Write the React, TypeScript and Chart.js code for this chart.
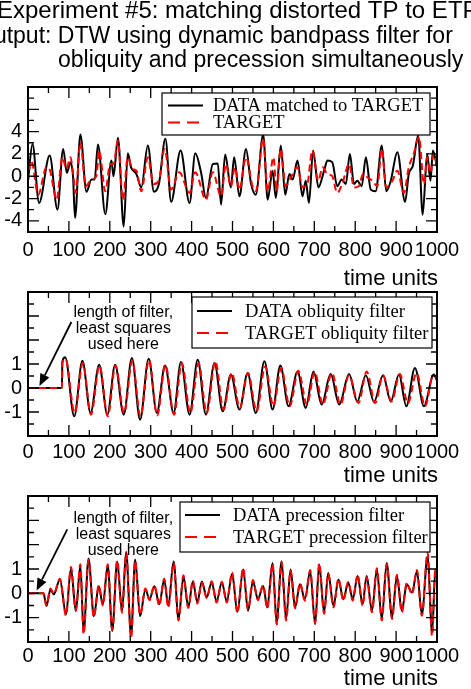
import { useEffect, useRef } from "react";
import { Chart, registerables } from "chart.js";

Chart.register(...registerables);

const SANS = "'Liberation Sans', Arial, Helvetica, sans-serif";
const SERIF = "'Liberation Serif', 'Times New Roman', Times, serif";

// ---------- Panel 1: DATA matched to TARGET ----------
const p1DataTime = [
  0, 11, 27, 53, 72, 86, 95, 104, 110, 115,
  128, 143, 155, 163, 171, 189, 204, 209, 220, 234,
  244, 252, 265, 277, 293, 308, 320, 336, 350, 373,
  395, 409, 423, 435, 452, 464, 472, 482, 496, 504,
  517, 533, 545, 557, 575, 586, 598, 606, 618, 629,
  639, 647, 659, 671, 679, 687, 697, 710, 724, 732,
  744, 756, 767, 777, 787, 797, 805, 816, 826, 838,
  850, 865, 876, 887, 903, 922, 931, 941, 954, 965,
  976, 984, 990, 1000,
];
const p1DataValue = [
  -0.4, 2.9, -2.4, 1.85, -3.0, 2.45, 0.3, 1.25, 0.0, -3.75,
  3.75, -1.4, -0.3, -0.3, 2.85, -3.4, 1.4, 0.0, 3.45, -4.5,
  2.05, 0.8, 0.2, -1.0, 2.75, -1.4, -0.7, 3.35, -2.3, 2.3,
  -2.4, 2.05, 0.35, -1.95, 1.1, 1.15, -2.55, 1.95, -1.0, 1.7,
  -1.8, 2.45, -0.6, -1.65, 3.75, -2.1, 0.5, -1.95, 2.75, -1.65,
  0.2, -0.3, 1.4, -1.8, -0.4, -2.4, 2.3, -1.0, 0.5, 1.4,
  1.25, -0.9, -0.3, -0.7, 2.0, -0.7, -0.4, -0.9, 1.7, -1.2,
  -1.35, 2.75, -1.35, -0.4, 2.15, -2.3, 0.2, 0.95, 3.65, -3.45,
  2.0, -0.4, 2.3, 0.8,
];
const p1TargetTime = [
  0, 8, 25, 45, 53, 70, 84, 94, 104, 110,
  117, 128, 141, 155, 167, 174, 189, 201, 209, 220,
  232, 244, 255, 265, 277, 293, 307, 320, 334, 350,
  370, 395, 409, 435, 452, 472, 484, 496, 506, 517,
  533, 549, 557, 575, 586, 600, 608, 618, 630, 643,
  659, 671, 683, 695, 710, 720, 732, 744, 756, 769,
  785, 797, 809, 819, 830, 842, 854, 865, 876, 891,
  903, 919, 931, 943, 956, 968, 976, 984, 992, 1000,
];
const p1TargetValue = [
  -0.4, 1.4, -1.65, 0.8, 0.6, -2.1, 1.7, 0.65, 1.7, 0.3,
  -1.5, 3.05, -0.9, -0.3, 0.0, 2.3, -1.35, 1.1, 1.1, 3.2,
  -2.1, 1.7, 0.65, 0.5, -1.35, 1.7, -0.7, -0.4, 2.45, -1.2,
  0.35, -1.5, 0.35, -2.1, 0.35, -1.8, 1.1, -0.9, 0.8, -1.2,
  1.7, -0.9, -1.35, 3.35, -1.35, 1.7, -1.35, 2.45, -0.9, -0.1,
  0.8, -1.0, -0.7, 2.3, -0.4, 0.8, 0.2, 0.0, -1.5, -0.6,
  1.1, -1.0, -0.9, 0.2, -0.1, -0.4, -0.9, 2.45, -1.0, -0.4,
  0.5, -1.5, 0.8, 2.0, 3.5, -0.7, 1.7, 0.3, 2.0, 1.0,
];

// ---------- Panel 2: obliquity filter ----------
const p2DataTime = [
  0, 83, 84, 91, 113, 133, 153, 174, 194, 213,
  234, 254, 274, 295, 315, 335, 356, 374, 395, 415,
  435, 456, 476, 496, 517, 537, 557, 578, 598, 617,
  637, 659, 679, 698, 718, 740, 761, 785, 805, 826,
  846, 868, 887, 907, 925, 946, 968, 992, 1000,
];
const p2DataValue = [
  0, 0, 1.1, 1.28, -1.18, 1.14, -1.04, 0.97, -1.11, 0.97,
  -1.11, 1.25, -1.32, 1.22, -1.04, 0.94, -1.04, 1.08, -1.11, 1.18,
  -1.11, 1.04, -0.97, 0.56, -0.9, 0.63, -1.04, 1.11, -0.9, 0.94,
  -0.76, 0.69, -0.83, 0.69, -0.69, 0.58, -0.69, 0.58, -0.56, 0.53,
  -0.58, 0.53, -0.56, 0.56, -0.76, 0.83, -0.76, 0.56, 0.3,
];
const p2TargetTime = [
  0, 83, 84, 92, 114, 134, 154, 175, 195, 214,
  235, 255, 275, 296, 316, 336, 357, 376, 397, 417,
  437, 458, 478, 498, 518, 538, 559, 580, 600, 619,
  640, 661, 682, 701, 721, 743, 764, 785, 808, 828,
  849, 868, 889, 909, 929, 950, 971, 990, 1000,
];
const p2TargetValue = [
  0, 0, 1.05, 1.2, -1.04, 1.04, -1.11, 0.94, -1.18, 0.94,
  -1.04, 1.14, -1.18, 1.18, -1.14, 0.97, -1.11, 1.04, -1.04, 1.04,
  -1.04, 1.11, -0.9, 0.63, -0.83, 0.63, -0.97, 0.9, -0.76, 0.83,
  -0.76, 0.72, -0.69, 0.67, -0.69, 0.63, -0.69, 0.53, -0.63, 0.69,
  -0.63, 0.53, -0.56, 0.58, -0.63, 0.63, -0.76, 0.49, 0.45,
];

// ---------- Panel 3: precession filter ----------
const p3Time = [
  0, 38, 45, 55, 63, 78, 93, 105, 117, 128,
  136, 148, 161, 173, 183, 195, 206, 218, 230, 240,
  252, 262, 274, 287, 297, 309, 321, 333, 343, 356,
  368, 380, 392, 403, 414, 425, 437, 449, 461, 474,
  486, 499, 512, 526, 538, 550, 562, 575, 585, 598,
  608, 620, 631, 642, 653, 665, 677, 690, 702, 712,
  724, 734, 747, 759, 771, 783, 794, 806, 818, 828,
  841, 853, 865, 877, 890, 902, 914, 926, 939, 951,
  963, 977, 988, 996, 1000,
];
const p3DataValue = [
  0, 0, -0.52, 0.16, -0.04, 0.57, -0.86, 1.02, -0.73, 1.14,
  -1.6, 1.43, -0.94, 0.29, -0.45, 1.14, -1.55, 1.31, -0.73, 1.71,
  -1.75, 1.39, -0.94, 0.16, -0.24, 0.29, -0.45, 0.57, -0.52, 1.31,
  -1.06, 0.69, -0.57, 0.49, -0.37, 0.49, -0.16, 0.45, -0.33, 0.45,
  -0.33, 0.8, -0.76, 0.98, -0.72, 0.5, -0.24, 0.3, -0.58, 1.25,
  -1.2, 1.32, -1.06, 0.98, -0.58, 0.37, -0.24, 0.91, -1.27, 1.18,
  -0.79, 0.84, -0.52, 0.57, -0.24, 0.44, -0.24, 0.71, -0.45, 0.71,
  -0.72, 0.98, -1.06, 1.25, -0.99, 0.71, -0.72, 0.37, 0.03, 0.91,
  -0.86, 1.52, -1.6, 0.98, 0.6,
];
const p3TargetValue = [
  0, 0, -0.5, 0.2, -0.02, 0.6, -0.92, 1.08, -0.7, 1.2,
  -1.68, 1.38, -0.98, 0.33, -0.5, 1.2, -1.5, 1.36, -0.8, 1.66,
  -1.85, 1.34, -0.88, 0.2, -0.28, 0.33, -0.5, 0.6, -0.58, 1.26,
  -1.12, 0.74, -0.6, 0.52, -0.42, 0.45, -0.2, 0.5, -0.38, 0.48,
  -0.38, 0.86, -0.8, 1.03, -0.66, 0.55, -0.28, 0.34, -0.62, 1.2,
  -1.28, 1.28, -1.12, 0.93, -0.62, 0.42, -0.3, 0.96, -1.22, 1.24,
  -0.84, 0.8, -0.58, 0.6, -0.3, 0.48, -0.3, 0.76, -0.5, 0.66,
  -0.78, 1.03, -1.12, 1.2, -1.05, 0.76, -0.78, 0.42, -0.04, 0.96,
  -0.92, 1.68, -1.75, 1.05, 0.55,
];

// ---------- Axis ticks and text ----------
const timeTicks = [0, 100, 200, 300, 400, 500, 600, 700, 800, 900, 1000];
const matchYTicks = [-4, -2, 0, 2, 4];
const filterYTicks = [-1, 0, 1];
const xAxisLabel = "time units";
const titleLines = [
  "Experiment #5: matching distorted TP to ETP",
  "Output: DTW using dynamic bandpass filter for",
  "obliquity and precession simultaneously",
];
const noteLines = ["length of filter,", "least squares", "used here"];

const points = (t: number[], v: number[]) => t.map((x, i) => ({ x, y: v[i] }));

// Box around the plot with inward major/minor ticks on all four sides,
// plus the axis label under the tick numbers.
const framePlugin = {
  id: "frame",
  afterDatasetsDraw(chart: any, _args: any, o: any) {
    const { ctx, chartArea: a, scales } = chart;
    const xs = scales.x;
    const ys = scales.y;
    ctx.save();
    ctx.strokeStyle = "#000";
    ctx.lineWidth = 1.3;
    ctx.beginPath();
    const nx = Math.round((xs.max - xs.min) / o.xMinor);
    for (let i = 0; i <= nx; i++) {
      const v = xs.min + i * o.xMinor;
      const r = v / o.xMajor;
      const len = Math.abs(r - Math.round(r)) < 1e-6 ? o.major : o.minor;
      const p = xs.getPixelForValue(v);
      ctx.moveTo(p, a.bottom);
      ctx.lineTo(p, a.bottom - len);
      ctx.moveTo(p, a.top);
      ctx.lineTo(p, a.top + len);
    }
    const ny = Math.round((ys.max - ys.min) / o.yMinor);
    for (let i = 0; i <= ny; i++) {
      const v = ys.min + i * o.yMinor;
      const r = v / o.yMajor;
      const len = Math.abs(r - Math.round(r)) < 1e-6 ? o.major : o.minor;
      const p = ys.getPixelForValue(v);
      ctx.moveTo(a.left, p);
      ctx.lineTo(a.left + len, p);
      ctx.moveTo(a.right, p);
      ctx.lineTo(a.right - len, p);
    }
    ctx.stroke();
    ctx.lineWidth = 2;
    ctx.strokeRect(a.left, a.top, a.right - a.left, a.bottom - a.top);
    ctx.fillStyle = "#000";
    ctx.font = `22px ${SANS}`;
    ctx.textAlign = "right";
    ctx.textBaseline = "alphabetic";
    ctx.fillText(xAxisLabel, a.right + 1, o.labelBaseline);
    ctx.restore();
  },
};

// Boxed key in the upper right of the plot, built from the datasets.
const keyPlugin = {
  id: "keyBox",
  afterDraw(chart: any, _args: any, o: any) {
    if (!o || !o.box) return;
    const { ctx, chartArea: a } = chart;
    const L = a.left;
    const T = a.top;
    ctx.save();
    ctx.fillStyle = "#fff";
    ctx.fillRect(L + o.box[0], T + o.box[1], o.box[2], o.box[3]);
    ctx.strokeStyle = "#000";
    ctx.lineWidth = 1.2;
    ctx.strokeRect(L + o.box[0], T + o.box[1], o.box[2], o.box[3]);
    chart.data.datasets.forEach((ds: any, i: number) => {
      const y = T + o.rows[i];
      ctx.beginPath();
      ctx.strokeStyle = ds.borderColor;
      ctx.lineWidth = ds.borderWidth;
      ctx.setLineDash(ds.borderDash ? o.dash : []);
      ctx.moveTo(L + o.sample[0], y);
      ctx.lineTo(L + o.sample[1], y);
      ctx.stroke();
      ctx.setLineDash([]);
      ctx.fillStyle = "#000";
      ctx.font = `18.5px ${SERIF}`;
      ctx.textAlign = "left";
      ctx.textBaseline = "middle";
      ctx.fillText(ds.label, L + o.textX, y + 1);
    });
    ctx.restore();
  },
};

// Note with an arrow pointing at the start of the filtered record.
const notePlugin = {
  id: "note",
  afterDraw(chart: any, _args: any, o: any) {
    if (!o || !o.at) return;
    const { ctx, scales } = chart;
    const xs = scales.x;
    const ys = scales.y;
    ctx.save();
    ctx.fillStyle = "#000";
    ctx.font = `16px ${SANS}`;
    ctx.textAlign = "center";
    ctx.textBaseline = "middle";
    const cx = xs.getPixelForValue(o.at);
    noteLines.forEach((line, i) => ctx.fillText(line, cx, ys.getPixelForValue(o.rows[i])));
    const x1 = xs.getPixelForValue(o.from[0]);
    const y1 = ys.getPixelForValue(o.from[1]);
    const x2 = xs.getPixelForValue(o.to[0]);
    const y2 = ys.getPixelForValue(o.to[1]);
    const ang = Math.atan2(y2 - y1, x2 - x1);
    const head = 12;
    const hw = 5;
    const bx = x2 - head * Math.cos(ang);
    const by = y2 - head * Math.sin(ang);
    ctx.strokeStyle = "#000";
    ctx.lineWidth = 1.8;
    ctx.beginPath();
    ctx.moveTo(x1, y1);
    ctx.lineTo(bx, by);
    ctx.stroke();
    ctx.beginPath();
    ctx.moveTo(x2, y2);
    ctx.lineTo(bx + hw * Math.sin(ang), by - hw * Math.cos(ang));
    ctx.lineTo(bx - hw * Math.sin(ang), by + hw * Math.cos(ang));
    ctx.closePath();
    ctx.fill();
    ctx.restore();
  },
};

// Three-line heading at the top of the figure.
const headingPlugin = {
  id: "heading",
  afterDraw(chart: any, _args: any, o: any) {
    if (!o || !o.lines) return;
    const { ctx } = chart;
    ctx.save();
    ctx.fillStyle = "#000";
    ctx.textAlign = "left";
    ctx.textBaseline = "alphabetic";
    o.lines.forEach((ln: any, i: number) => {
      ctx.font = `${ln.size}px ${SANS}`;
      ctx.fillText(titleLines[i], ln.x, ln.y);
    });
    ctx.restore();
  },
};

type PanelSpec = {
  height: number;
  padTop: number;
  xAxisHeight: number;
  tickPad: number;
  yMin: number;
  yMax: number;
  yLabels: number[];
  yMajor: number;
  yMinor: number;
  labelBaseline: number;
  datasets: any[];
  key: any;
  note?: any;
  heading?: any;
};

function makeConfig(s: PanelSpec): any {
  return {
    type: "line",
    data: { datasets: s.datasets },
    options: {
      responsive: false,
      animation: false,
      devicePixelRatio: 1,
      events: [],
      layout: { padding: { top: s.padTop, left: 0, right: 34, bottom: 0 } },
      elements: { point: { radius: 0 } },
      plugins: {
        legend: { display: false },
        tooltip: { enabled: false },
        frame: {
          xMajor: 100,
          xMinor: 50,
          yMajor: s.yMajor,
          yMinor: s.yMinor,
          major: 11,
          minor: 6,
          labelBaseline: s.labelBaseline,
        },
        keyBox: s.key,
        note: s.note || {},
        heading: s.heading || {},
      },
      scales: {
        x: {
          type: "linear",
          min: 0,
          max: 1000,
          afterBuildTicks: (sc: any) => {
            sc.ticks = timeTicks.map((v) => ({ value: v }));
          },
          afterFit: (sc: any) => {
            sc.height = s.xAxisHeight;
            sc.paddingLeft = 0;
            sc.paddingRight = 0;
          },
          grid: { display: false, drawTicks: false },
          border: { display: false },
          ticks: {
            autoSkip: false,
            maxRotation: 0,
            minRotation: 0,
            padding: s.tickPad,
            color: "#000",
            font: { family: SANS, size: 20 },
            callback: (v: any) => String(v),
          },
        },
        y: {
          type: "linear",
          min: s.yMin,
          max: s.yMax,
          afterBuildTicks: (sc: any) => {
            sc.ticks = s.yLabels.map((v) => ({ value: v }));
          },
          afterFit: (sc: any) => {
            sc.width = 28;
            sc.paddingTop = 0;
            sc.paddingBottom = 0;
          },
          grid: { display: false, drawTicks: false },
          border: { display: false },
          ticks: {
            padding: 6,
            color: "#000",
            font: { family: SANS, size: 20 },
            callback: (v: any) => String(v),
          },
        },
      },
    },
    plugins: [framePlugin, keyPlugin, notePlugin, headingPlugin],
  };
}

const dataLine = (label: string, pts: any[]) => ({
  label,
  data: pts,
  borderColor: "#000000",
  borderWidth: 2,
  pointRadius: 0,
  fill: false,
  cubicInterpolationMode: "monotone",
  order: 1,
});
const targetLine = (label: string, pts: any[]) => ({
  label,
  data: pts,
  borderColor: "#ff0000",
  borderWidth: 2,
  borderDash: [7, 4],
  pointRadius: 0,
  fill: false,
  cubicInterpolationMode: "monotone",
  order: 0,
});

const panels: { top: number; spec: PanelSpec }[] = [
  {
    top: 0,
    spec: {
      height: 288,
      padTop: 87,
      xAxisHeight: 56,
      tickPad: 6,
      yMin: -5,
      yMax: 8,
      yLabels: matchYTicks,
      yMajor: 2,
      yMinor: 1,
      labelBaseline: 285,
      datasets: [
        dataLine("DATA matched to TARGET", points(p1DataTime, p1DataValue)),
        targetLine("TARGET", points(p1TargetTime, p1TargetValue)),
      ],
      key: { box: [134, 6, 268, 42], rows: [18.5, 35.5], sample: [140, 175], textX: 185, dash: [12, 7] },
      heading: {
        lines: [
          { x: -3, y: 18, size: 24 },
          { x: -24, y: 43, size: 23 },
          { x: 58, y: 67, size: 23 },
        ],
      },
    },
  },
  {
    top: 288,
    spec: {
      height: 204,
      padTop: 4,
      xAxisHeight: 56,
      tickPad: 4,
      yMin: -2,
      yMax: 4,
      yLabels: filterYTicks,
      yMajor: 1,
      yMinor: 0.5,
      labelBaseline: 194,
      datasets: [
        dataLine("DATA obliquity filter", points(p2DataTime, p2DataValue)),
        targetLine("TARGET obliquity filter", points(p2TargetTime, p2TargetValue)),
      ],
      key: { box: [164, 5, 240, 51], rows: [19, 41], sample: [169, 204], textX: 217, dash: [12, 7] },
      note: { at: 233, rows: [3.125, 2.47, 1.8], from: [106, 2.75], to: [28, 0.08] },
    },
  },
  {
    top: 492,
    spec: {
      height: 197,
      padTop: 4,
      xAxisHeight: 47,
      tickPad: 2,
      yMin: -2,
      yMax: 4,
      yLabels: filterYTicks,
      yMajor: 1,
      yMinor: 0.5,
      labelBaseline: 193,
      datasets: [
        dataLine("DATA precession filter", points(p3Time, p3DataValue)),
        targetLine("TARGET precession filter", points(p3Time, p3TargetValue)),
      ],
      key: { box: [152, 6, 250, 50], rows: [19, 41], sample: [157, 192], textX: 205, dash: [12, 7] },
      note: { at: 233, rows: [3.09, 2.43, 1.77], from: [96, 2.63], to: [21, 0.12] },
    },
  },
];

function Panel({ top, spec }: { top: number; spec: PanelSpec }) {
  const ref = useRef<HTMLCanvasElement | null>(null);
  useEffect(() => {
    if (!ref.current) return;
    const chart = new Chart(ref.current, makeConfig(spec));
    return () => chart.destroy();
  }, [spec]);
  return (
    <canvas
      ref={ref}
      width={471}
      height={spec.height}
      style={{ position: "absolute", left: 0, top, width: 471, height: spec.height, display: "block" }}
    />
  );
}

export default function App() {
  return (
    <div
      style={{
        position: "absolute",
        left: 0,
        top: 0,
        width: 471,
        height: 689,
        background: "#ffffff",
        overflow: "hidden",
      }}
    >
      {panels.map((p, i) => (
        <Panel key={i} top={p.top} spec={p.spec} />
      ))}
    </div>
  );
}
